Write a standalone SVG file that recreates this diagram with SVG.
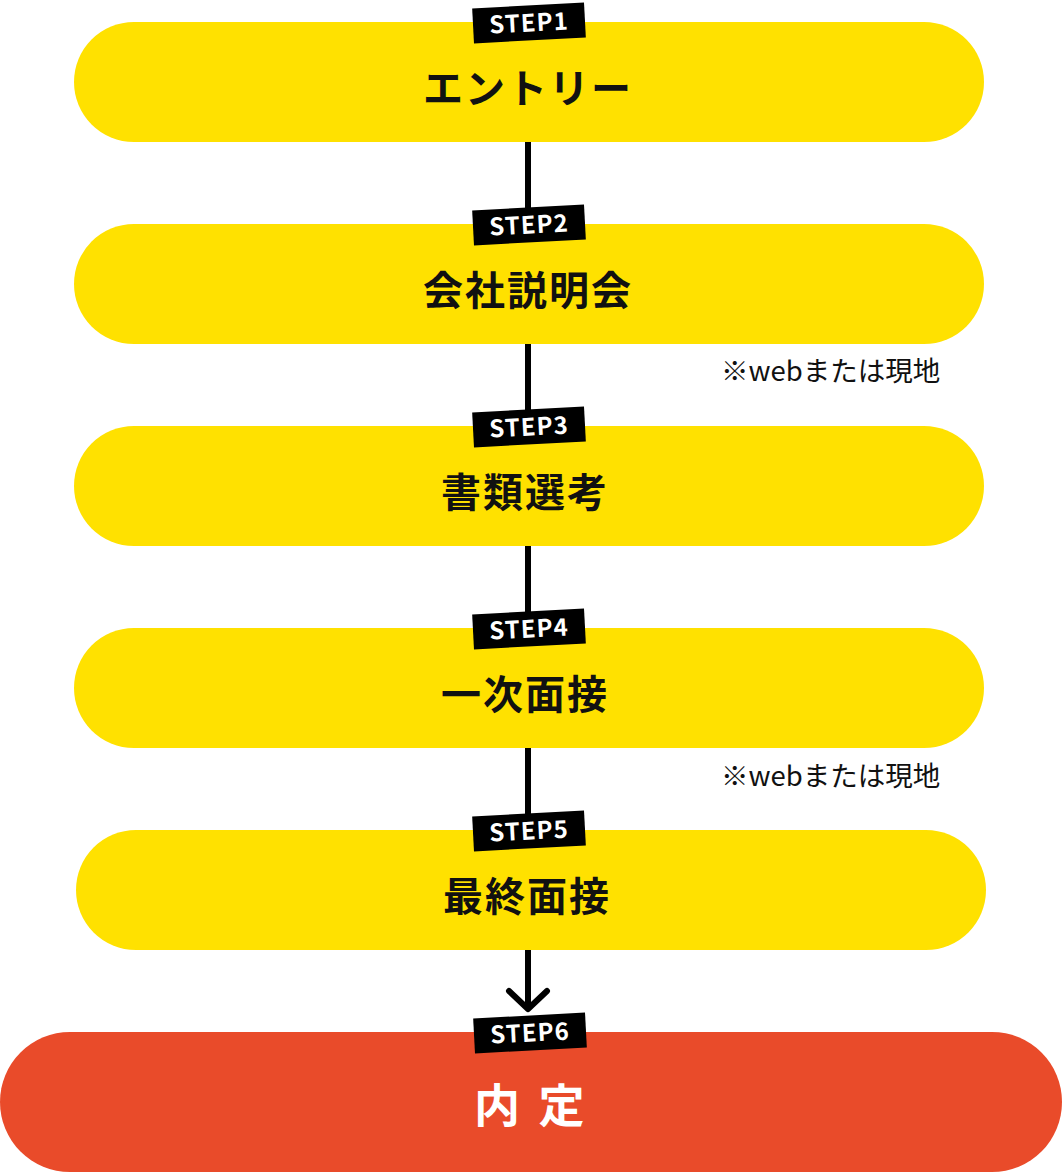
<svg xmlns="http://www.w3.org/2000/svg" width="1062" height="1173" viewBox="0 0 1062 1173">
<style>
.pill{fill:#FFE100}
.final{fill:#E94B2A}
.label{font-family:"Noto Sans CJK JP","Noto Sans",sans-serif;font-weight:700;font-size:40px;fill:#111;letter-spacing:2px;text-anchor:middle}
.flabel{font-family:"Noto Sans CJK JP","Noto Sans",sans-serif;font-weight:700;font-size:46px;fill:#fff}
.tag rect{fill:#000}
.tag text{font-family:"Noto Sans CJK JP","Noto Sans",sans-serif;font-weight:700;font-size:24px;fill:#fff;letter-spacing:1px;text-anchor:middle}
.note{font-family:"Noto Sans CJK JP","Noto Sans",sans-serif;font-size:27.5px;fill:#111}
.conn{stroke:#000;stroke-width:6;fill:none}
</style>
<rect width="1062" height="1173" fill="#fff"/>
<g id="connectors">
<line class="conn" x1="528" y1="140" x2="528" y2="226"/>
<line class="conn" x1="528" y1="342" x2="528" y2="428"/>
<line class="conn" x1="528" y1="544" x2="528" y2="630"/>
<line class="conn" x1="528" y1="746" x2="528" y2="832"/>
<line class="conn" x1="528" y1="948" x2="528" y2="1008"/>
<polyline class="conn" points="509,991 528,1009 547,991" stroke-linecap="round" stroke-linejoin="round"/>
</g>
<g id="step1">
<rect class="pill" x="74" y="22" width="910" height="120" rx="60"/>
<text class="label" x="528" y="103">エントリー</text>
<g class="tag" transform="translate(529,23) rotate(-3)"><rect x="-56" y="-17.5" width="112" height="35"/><text x="0" y="8.5">STEP1</text></g>
</g>
<g id="step2">
<rect class="pill" x="74" y="224" width="910" height="120" rx="60"/>
<text class="label" x="528" y="305">会社説明会</text>
<g class="tag" transform="translate(529,225) rotate(-3)"><rect x="-56" y="-17.5" width="112" height="35"/><text x="0" y="8.5">STEP2</text></g>
</g>
<text id="note1" class="note" x="721" y="381">※webまたは現地</text>
<g id="step3">
<rect class="pill" x="74" y="426" width="910" height="120" rx="60"/>
<text class="label" x="525" y="507">書類選考</text>
<g class="tag" transform="translate(529,427) rotate(-3)"><rect x="-56" y="-17.5" width="112" height="35"/><text x="0" y="8.5">STEP3</text></g>
</g>
<g id="step4">
<rect class="pill" x="74" y="628" width="910" height="120" rx="60"/>
<text class="label" x="525" y="709">一次面接</text>
<g class="tag" transform="translate(529,629) rotate(-3)"><rect x="-56" y="-17.5" width="112" height="35"/><text x="0" y="8.5">STEP4</text></g>
</g>
<text id="note2" class="note" x="721" y="786">※webまたは現地</text>
<g id="step5">
<rect class="pill" x="76" y="830" width="910" height="120" rx="60"/>
<text class="label" x="527" y="911">最終面接</text>
<g class="tag" transform="translate(529,831) rotate(-3)"><rect x="-56" y="-17.5" width="112" height="35"/><text x="0" y="8.5">STEP5</text></g>
</g>
<g id="step6">
<rect class="final" x="0" y="1032" width="1062" height="140" rx="70"/>
<text class="flabel" x="474" y="1122" letter-spacing="4">内 定</text>
<g class="tag" transform="translate(530,1033) rotate(-3)"><rect x="-56" y="-17.5" width="112" height="35"/><text x="0" y="8.5">STEP6</text></g>
</g>
</svg>
